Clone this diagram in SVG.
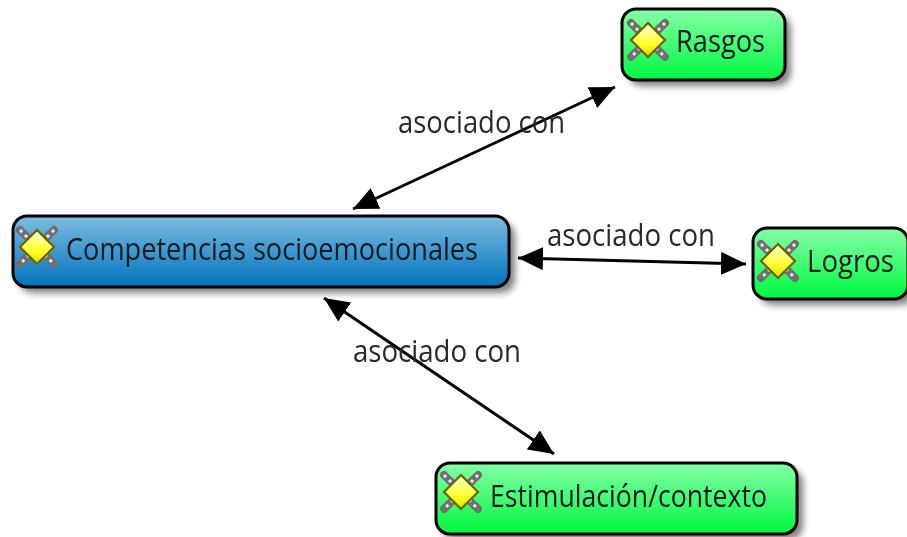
<svg xmlns="http://www.w3.org/2000/svg" width="907" height="537" viewBox="0 0 907 537">
<style>
.box{stroke:#000;stroke-width:3}
.t{font-family:"Open Sans","Noto Sans",sans-serif;font-size:31px;fill:#0c1a20}
.l{font-family:"Open Sans","Noto Sans",sans-serif;font-size:31px;fill:#2a2a2a}
.c{fill:none;stroke:#000;stroke-width:3;marker-start:url(#a);marker-end:url(#a)}
.soft{filter:url(#f)}
</style>
<defs>
<linearGradient id="g" x1="0" y1="0" x2="0" y2="1"><stop offset="0" stop-color="#84ffa6"/><stop offset="1" stop-color="#00f840"/></linearGradient>
<linearGradient id="b" x1="0" y1="0" x2="0" y2="1"><stop offset="0" stop-color="#7dbce0"/><stop offset="1" stop-color="#0073bd"/></linearGradient>
<linearGradient id="y" x1="0" y1="0" x2="0" y2="1"><stop offset="0" stop-color="#ffffd8"/><stop offset=".65" stop-color="#ffff20"/><stop offset="1" stop-color="#d8d800"/></linearGradient>
<filter id="s" x="-10%" y="-20%" width="125%" height="150%"><feGaussianBlur stdDeviation="3.5"/></filter>
<filter id="f" x="-2%" y="-2%" width="104%" height="104%"><feGaussianBlur stdDeviation="0.55"/></filter>
<marker id="a" viewBox="0 0 10 10" refX="10" refY="5" markerUnits="userSpaceOnUse" markerWidth="25" markerHeight="23" orient="auto-start-reverse" preserveAspectRatio="none"><path d="M0 0L10 5L0 10Z" fill="#000"/></marker>
<g id="ic">
<path d="M-17-17L17 17M17-17L-17 17" stroke="#707070" stroke-width="8" stroke-linecap="round" stroke-dasharray="6 1"/>
<path d="M-17-17L17 17M17-17L-17 17" stroke="#e8e8e8" stroke-width="3" stroke-dasharray="3 4"/>
<path d="M0-17L17 0L0 17L-17 0Z" fill="url(#y)" stroke="#6b6500" stroke-width="2.2"/>
</g>
</defs>
<g class="soft">
<g id="connectors">
<path class="c" d="M353 209L615 87"/>
<path class="c" d="M518 258L746 264"/>
<path class="c" d="M324 298L554 454"/>
</g>
<g id="edge-labels">
<text class="l" x="398" y="133" textLength="167" lengthAdjust="spacingAndGlyphs">asociado con</text>
<text class="l" x="547" y="246" textLength="168" lengthAdjust="spacingAndGlyphs">asociado con</text>
<text class="l" x="353" y="362" textLength="168" lengthAdjust="spacingAndGlyphs">asociado con</text>
</g>
<g id="n-competencias">
<rect x="19" y="222" width="496" height="71" rx="14" fill="#000" opacity=".5" filter="url(#s)"/>
<rect class="box" x="13" y="216" width="496" height="71" rx="14" fill="url(#b)"/>
<use href="#ic" x="37" y="247"/>
<text class="t" x="66" y="260" textLength="412" lengthAdjust="spacingAndGlyphs">Competencias socioemocionales</text>
</g>
<g id="n-rasgos">
<rect x="628" y="15" width="163" height="71" rx="14" fill="#000" opacity=".5" filter="url(#s)"/>
<rect class="box" x="622" y="9" width="163" height="71" rx="14" fill="url(#g)"/>
<use href="#ic" x="648" y="40"/>
<text class="t" x="676" y="52" textLength="89" lengthAdjust="spacingAndGlyphs">Rasgos</text>
</g>
<g id="n-logros">
<rect x="759" y="234" width="155" height="71" rx="14" fill="#000" opacity=".5" filter="url(#s)"/>
<rect class="box" x="753" y="228" width="155" height="71" rx="14" fill="url(#g)"/>
<use href="#ic" x="778" y="261"/>
<text class="t" x="807" y="272" textLength="87" lengthAdjust="spacingAndGlyphs">Logros</text>
</g>
<g id="n-estimulacion">
<rect x="442" y="469" width="361" height="71" rx="14" fill="#000" opacity=".5" filter="url(#s)"/>
<rect class="box" x="436" y="463" width="361" height="71" rx="14" fill="url(#g)"/>
<use href="#ic" x="461" y="492"/>
<text class="t" x="490" y="507" textLength="277" lengthAdjust="spacingAndGlyphs">Estimulación/contexto</text>
</g>
</g>
</svg>
